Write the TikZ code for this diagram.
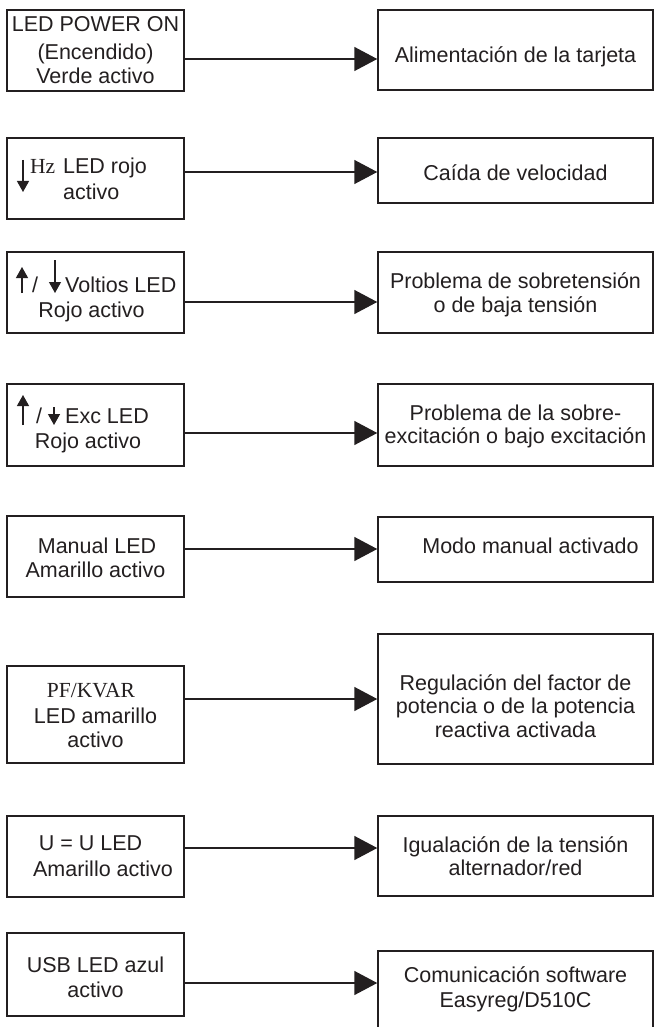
\documentclass[tikz,border=0pt]{standalone}
\usepackage{fontspec}
\setmainfont{Liberation Sans}
\newfontfamily\serifhz{Liberation Serif}
\usetikzlibrary{arrows.meta}
\definecolor{ink}{HTML}{231F20}
\newcommand{\fs}{\fontsize{21.5}{24}\selectfont}
\begin{document}
\begin{tikzpicture}[x=1pt,y=-1pt,
  box/.style={draw=ink, line width=1.5pt, inner sep=0pt},
  lbox/.style={box, minimum width=177pt},
  rbox/.style={box, minimum width=275pt},
  txt/.style={text=ink, font=\fs, anchor=base, inner sep=0pt},
  stxt/.style={text=ink, font=\fs\serifhz, anchor=base, inner sep=0pt},
  arr/.style={draw=ink, line width=1.5pt, -{Triangle[length=23pt,width=24pt]}},
  mini/.style={draw=ink, line width=1.3pt, -{Triangle[length=11pt,width=12pt]}}]
\useasboundingbox (0,0) rectangle (654,1027);
\clip (0,0) rectangle (654,1027);
\fill[white] (0,0) rectangle (654,1027);

% row 1
\node[lbox, minimum height=81pt] (L1) at (95.5,50.5) {};
\node[rbox, minimum height=80pt] (R1) at (515.5,50) {};
\coordinate (A1) at (0,59);
\draw[arr] (L1.east |- A1) -- (R1.west |- A1);
\node[txt] (t1a) at (95.5,32) {LED POWER ON};
\node[txt] (t1b) at (95.5,60) {(Encendido)};
\node[txt] (t1c) at (95.5,84) {Verde activo};
\node[txt] (r1) at (515.5,63) {Alimentación de la tarjeta};

% row 2
\node[lbox, minimum height=81pt] (L2) at (95.5,178.5) {};
\node[rbox, minimum height=65pt] (R2) at (515.5,170.5) {};
\coordinate (A2) at (0,172);
\draw[arr] (L2.east |- A2) -- (R2.west |- A2);
\draw[mini] (23,160) -- (23,192);
\node[stxt, anchor=base west] (hz) at (30,174) {Hz};
\node[txt, anchor=base west] (t2a) at (63,174) {LED rojo};
\node[txt, anchor=base west] (t2b) at (63,199) {activo};
\node[txt] (r2) at (515.5,181) {Caída de velocidad};

% row 3
\node[lbox, minimum height=81pt] (L3) at (95.5,292.5) {};
\node[rbox, minimum height=81pt] (R3) at (515.5,292.5) {};
\coordinate (A3) at (0,302);
\draw[arr] (L3.east |- A3) -- (R3.west |- A3);
\draw[mini] (22,293) -- (22,267);
\node[txt, anchor=base west] (sl3) at (32,292) {/};
\draw[mini] (55,260) -- (55,293);
\node[txt, anchor=base west] (t3a) at (65,292) {Voltios LED};
\node[txt] (t3b) at (91.5,317) {Rojo activo};
\node[txt] (r3a) at (515.5,288) {Problema de sobretensión};
\node[txt] (r3b) at (515.5,312) {o de baja tensión};

% row 4
\node[lbox, minimum height=82pt] (L4) at (95.5,425) {};
\node[rbox, minimum height=82pt] (R4) at (515.5,425) {};
\coordinate (A4) at (0,433);
\draw[arr] (L4.east |- A4) -- (R4.west |- A4);
\draw[mini] (23,425) -- (23,395);
\node[txt, anchor=base west] (sl4) at (36,423) {/};
\draw[mini] (54,407) -- (54,425);
\node[txt, anchor=base west] (t4a) at (65,423) {Exc LED};
\node[txt] (t4b) at (88,448) {Rojo activo};
\node[txt] (r4a) at (515.5,420) {Problema de la sobre-};
\node[txt] (r4b) at (515.5,443) {excitación o bajo excitación};

% row 5
\node[lbox, minimum height=81pt] (L5) at (95.5,556.5) {};
\node[rbox, minimum height=65pt] (R5) at (515.5,549.5) {};
\coordinate (A5) at (0,549);
\draw[arr] (L5.east |- A5) -- (R5.west |- A5);
\node[txt] (t5a) at (97,553) {Manual LED};
\node[txt] (t5b) at (95.5,577) {Amarillo activo};
\node[txt] (r5) at (530.5,553) {Modo manual activado};

% row 6
\node[lbox, minimum height=97pt] (L6) at (95.5,714.5) {};
\node[rbox, minimum height=130pt] (R6) at (515.5,699) {};
\coordinate (A6) at (0,699);
\draw[arr] (L6.east |- A6) -- (R6.west |- A6);
\node[stxt] (t6a) at (91,697) {PF/KVAR};
\node[txt] (t6b) at (95.5,723) {LED amarillo};
\node[txt] (t6c) at (95.5,747) {activo};
\node[txt] (r6a) at (515.5,690) {Regulación del factor de};
\node[txt] (r6b) at (515.5,713) {potencia o de la potencia};
\node[txt] (r6c) at (515.5,737) {reactiva activada};

% row 7
\node[lbox, minimum height=81pt] (L7) at (95.5,856.5) {};
\node[rbox, minimum height=80pt] (R7) at (515.5,856) {};
\coordinate (A7) at (0,848);
\draw[arr] (L7.east |- A7) -- (R7.west |- A7);
\node[txt] (t7a) at (90.5,850) {U = U LED};
\node[txt] (t7b) at (103,876) {Amarillo activo};
\node[txt] (r7a) at (515.5,852) {Igualación de la tensión};
\node[txt] (r7b) at (515.5,875) {alternador/red};

% row 8
\node[lbox, minimum height=83pt] (L8) at (95.5,974.5) {};
\node[rbox, minimum height=90pt] (R8) at (515.5,996) {};
\coordinate (A8) at (0,983);
\draw[arr] (L8.east |- A8) -- (R8.west |- A8);
\node[txt] (t8a) at (95.5,972) {USB LED azul};
\node[txt] (t8b) at (95.5,997) {activo};
\node[txt] (r8a) at (515.5,982) {Comunicación software};
\node[txt] (r8b) at (515.5,1007) {Easyreg/D510C};
\end{tikzpicture}
\end{document}
